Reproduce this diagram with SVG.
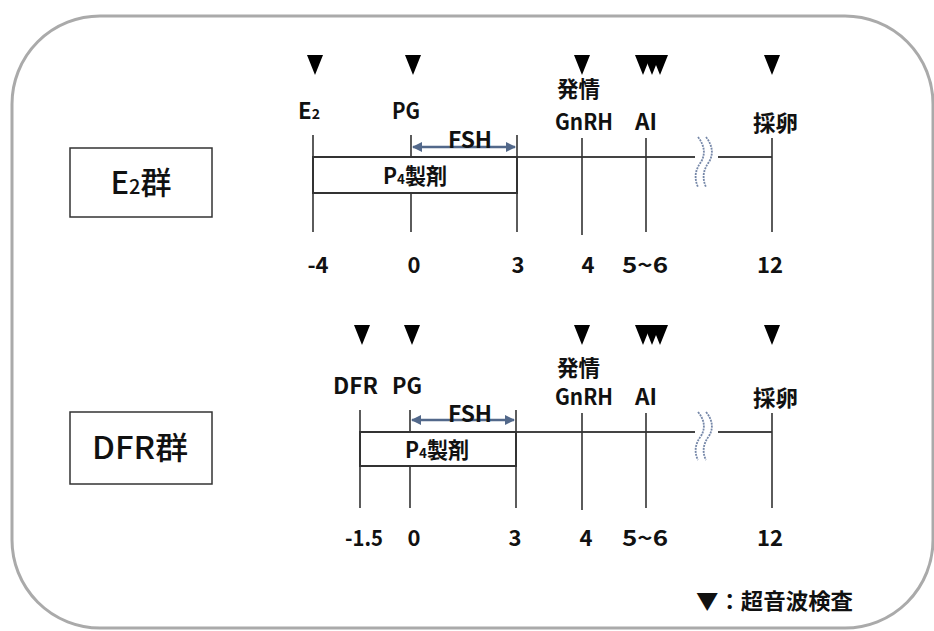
<svg xmlns="http://www.w3.org/2000/svg" width="934" height="631" viewBox="0 0 934 631">
<style>
text{font-family:"Noto Sans CJK JP","DejaVu Sans",sans-serif;font-weight:700;fill:#111;}
.lbl{font-size:22px;}
.num{font-size:22px;text-anchor:middle;}
.grp{font-size:31px;font-weight:500;text-anchor:middle;}
.tick{stroke:#333;stroke-width:1.6;fill:none;}
.axis{stroke:#444;stroke-width:2;fill:none;}
.box{stroke:#333;stroke-width:2;fill:#fff;}
.gbox{stroke:#333;stroke-width:1.5;fill:#fff;}
.tri{fill:#000;}
.fsh{stroke:#52688a;stroke-width:2.5;fill:none;marker-start:url(#ahs);marker-end:url(#ahe);}
.wave{stroke:#7587a8;stroke-width:1.8;fill:none;stroke-dasharray:2 1;}
</style>
<defs>
<marker id="ahe" viewBox="0 0 10 10" refX="9" refY="5" markerWidth="4" markerHeight="4" orient="auto" markerUnits="strokeWidth"><path d="M0,0 L10,5 L0,10 z" fill="#52688a"/></marker>
<marker id="ahs" viewBox="0 0 10 10" refX="1" refY="5" markerWidth="4" markerHeight="4" orient="auto" markerUnits="strokeWidth"><path d="M10,0 L0,5 L10,10 z" fill="#52688a"/></marker>
<path id="tri1" d="M-8,0 L8,0 L0,20 z"/>
</defs>
<rect x="12" y="16" width="921" height="612" rx="88" ry="88" fill="#fff" stroke="#aaa" stroke-width="3"/>

<g id="e2-group-label">
<rect class="gbox" x="70" y="148" width="142" height="69"/>
<text class="grp" x="141" y="194">E<tspan font-size="20px">2</tspan>群</text>
</g>
<g id="dfr-group-label">
<rect class="gbox" x="70" y="412" width="142" height="72"/>
<text class="grp" x="140" y="459" textLength="96" lengthAdjust="spacingAndGlyphs">DFR群</text>
</g>

<g id="connectors">
<!-- top timeline -->
<line class="axis" x1="517" y1="157" x2="695" y2="157"/>
<line class="axis" x1="718" y1="157" x2="772" y2="157"/>
<line class="tick" x1="313" y1="135" x2="313" y2="232"/>
<line class="tick" x1="411" y1="135" x2="411" y2="232"/>
<line class="tick" x1="517" y1="135" x2="517" y2="232"/>
<line class="tick" x1="582" y1="138" x2="582" y2="235"/>
<line class="tick" x1="646" y1="138" x2="646" y2="232"/>
<line class="tick" x1="772" y1="138" x2="772" y2="232"/>
<line class="fsh" x1="413" y1="147" x2="515" y2="147"/>
<path class="wave" d="M698,137 Q708,150 701,162 Q692,174 698,187"/>
<path class="wave" d="M706,137 Q716,150 709,162 Q700,174 706,187"/>
<!-- bottom timeline -->
<line class="axis" x1="516" y1="432" x2="695" y2="432"/>
<line class="axis" x1="718" y1="432" x2="772" y2="432"/>
<line class="tick" x1="360" y1="410" x2="360" y2="508"/>
<line class="tick" x1="410" y1="410" x2="410" y2="508"/>
<line class="tick" x1="516" y1="410" x2="516" y2="508"/>
<line class="tick" x1="582" y1="413" x2="582" y2="510"/>
<line class="tick" x1="646" y1="413" x2="646" y2="508"/>
<line class="tick" x1="772" y1="413" x2="772" y2="508"/>
<line class="fsh" x1="412" y1="420" x2="514" y2="420"/>
<path class="wave" d="M698,412 Q708,424 701,436 Q692,448 698,460"/>
<path class="wave" d="M706,412 Q716,424 709,436 Q700,448 706,460"/>
</g>

<g id="e2-p4">
<rect class="box" x="313" y="157" width="204" height="36"/>
<text class="lbl" x="383" y="184" textLength="64" lengthAdjust="spacingAndGlyphs">P<tspan font-size="14px">4</tspan>製剤</text>
</g>
<g id="e2-fsh"><text class="lbl" x="448" y="148" textLength="44" lengthAdjust="spacingAndGlyphs">FSH</text></g>

<g id="e2-markers">
<use href="#tri1" class="tri" x="315" y="55"/>
<use href="#tri1" class="tri" x="413" y="55"/>
<use href="#tri1" class="tri" x="582" y="55"/>
<use href="#tri1" class="tri" x="643" y="55"/>
<use href="#tri1" class="tri" x="652" y="55"/>
<use href="#tri1" class="tri" x="660" y="55"/>
<use href="#tri1" class="tri" x="772" y="55"/>
</g>
<g id="e2-labels">
<text class="lbl" x="298" y="119" textLength="22" lengthAdjust="spacingAndGlyphs">E<tspan font-size="14px">2</tspan></text>
<text class="lbl" x="392" y="119" textLength="28" lengthAdjust="spacingAndGlyphs">PG</text>
<text class="lbl" x="557" y="97" textLength="43" lengthAdjust="spacingAndGlyphs">発情</text>
<text class="lbl" x="555" y="130" textLength="58" lengthAdjust="spacingAndGlyphs">GnRH</text>
<text class="lbl" x="635" y="130" textLength="22" lengthAdjust="spacingAndGlyphs">AI</text>
<text class="lbl" x="753" y="131" textLength="45" lengthAdjust="spacingAndGlyphs">採卵</text>
</g>
<g id="e2-days">
<text class="num" x="318" y="273">-4</text>
<text class="num" x="414" y="273">0</text>
<text class="num" x="518" y="273">3</text>
<text class="num" x="588" y="273">4</text>
<text class="num" x="645" y="273" textLength="46" lengthAdjust="spacingAndGlyphs">5~6</text>
<text class="num" x="770" y="273">12</text>
</g>

<g id="dfr-p4">
<rect class="box" x="360" y="432" width="156" height="34"/>
<text class="lbl" x="405" y="458" textLength="64" lengthAdjust="spacingAndGlyphs">P<tspan font-size="14px">4</tspan>製剤</text>
</g>
<g id="dfr-fsh"><text class="lbl" x="448" y="422" textLength="44" lengthAdjust="spacingAndGlyphs">FSH</text></g>

<g id="dfr-markers">
<use href="#tri1" class="tri" x="362" y="325"/>
<use href="#tri1" class="tri" x="412" y="325"/>
<use href="#tri1" class="tri" x="582" y="325"/>
<use href="#tri1" class="tri" x="643" y="325"/>
<use href="#tri1" class="tri" x="652" y="325"/>
<use href="#tri1" class="tri" x="660" y="325"/>
<use href="#tri1" class="tri" x="772" y="325"/>
</g>
<g id="dfr-labels">
<text class="lbl" x="333" y="394" textLength="45" lengthAdjust="spacingAndGlyphs">DFR</text>
<text class="lbl" x="392" y="394" textLength="30" lengthAdjust="spacingAndGlyphs">PG</text>
<text class="lbl" x="557" y="376" textLength="43" lengthAdjust="spacingAndGlyphs">発情</text>
<text class="lbl" x="555" y="405" textLength="58" lengthAdjust="spacingAndGlyphs">GnRH</text>
<text class="lbl" x="635" y="405" textLength="22" lengthAdjust="spacingAndGlyphs">AI</text>
<text class="lbl" x="753" y="406" textLength="45" lengthAdjust="spacingAndGlyphs">採卵</text>
</g>
<g id="dfr-days">
<text class="num" x="364" y="546" textLength="38" lengthAdjust="spacingAndGlyphs">-1.5</text>
<text class="num" x="414" y="546">0</text>
<text class="num" x="515" y="546">3</text>
<text class="num" x="586" y="546">4</text>
<text class="num" x="645" y="546" textLength="46" lengthAdjust="spacingAndGlyphs">5~6</text>
<text class="num" x="770" y="546">12</text>
</g>

<g id="legend">
<text class="lbl" x="696" y="609" textLength="157" lengthAdjust="spacingAndGlyphs">▼：超音波検査</text>
</g>
</svg>
